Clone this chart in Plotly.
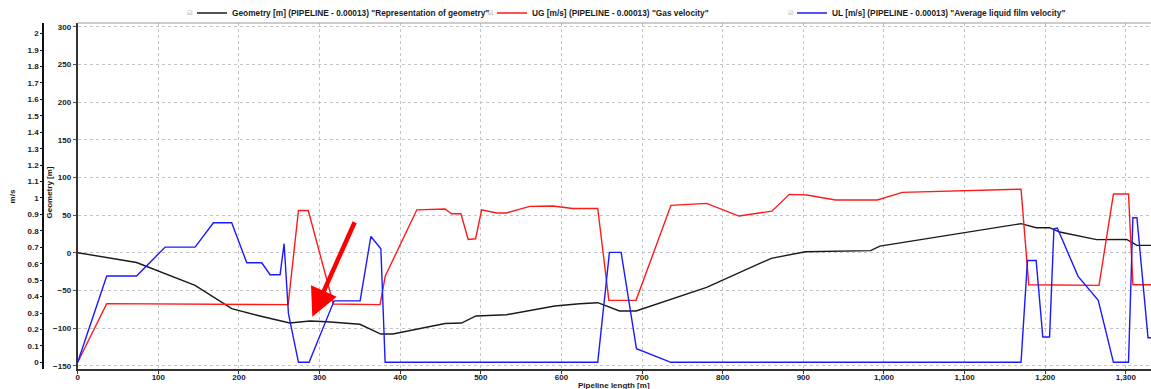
import plotly.graph_objects as go

# Pipeline profile: position along pipeline [m] and elevation [m]
geom_x = [0, 73, 145.6, 191, 226, 251, 263, 288, 309, 350, 376, 391, 455.6, 476, 494,
          532, 563, 591.6, 622.5, 645, 672, 692.5, 780, 860.2, 902.7, 983.4, 995,
          1130.7, 1170, 1188.75, 1205.4, 1218, 1263.75, 1301, 1313.75, 1340]
geometry_m = [0, -13, -43.4, -74.3, -84, -90, -93.4, -90.7, -91.6, -95, -108, -108, -94,
              -93.4, -84, -82.3, -76.5, -70.8, -67.7, -66.4, -77.4, -77.4, -46, -7.5, 1.3,
              2.7, 8.8, 32.3, 38.5, 33.2, 33.2, 27.4, 17.3, 17.7, 9.7, 9.7]

# Gas velocity UG [m/s]
ug_x = [0, 36, 261, 273.8, 286, 317, 375, 381.5, 420.6, 455.6, 463.8, 475.3, 484.3,
        493.5, 501, 519.5, 532, 560.7, 589.5, 614, 645, 658.8, 692.5, 735.8, 780, 820.3,
        861, 882.6, 904.6, 939.8, 991.7, 1022.8, 1170, 1179.6, 1266.7, 1284.6, 1303.3,
        1308.75, 1340]
ug_ms = [0.0, 0.357, 0.351, 0.924, 0.924, 0.355, 0.351, 0.525, 0.928, 0.933, 0.904,
         0.904, 0.748, 0.752, 0.928, 0.909, 0.909, 0.949, 0.951, 0.936, 0.936, 0.377,
         0.377, 0.955, 0.967, 0.890, 0.920, 1.022, 1.018, 0.988, 0.988, 1.034, 1.054,
         0.472, 0.468, 1.024, 1.024, 0.472, 0.472]

# Average liquid film velocity UL [m/s]
ul_x = [0, 36, 73, 108.4, 145.6, 168.3, 191, 209.7, 228.3, 238.6, 251, 256, 261.4,
        273.8, 287, 318, 350.3, 363.6, 376, 381.3, 645, 659.5, 674, 693, 735.8, 1170,
        1178, 1188.75, 1197, 1205.4, 1210.8, 1215, 1240.8, 1265.8, 1284.6, 1303.3,
        1308.75, 1313.75, 1327.5, 1340]
ul_ms = [0.0, 0.525, 0.525, 0.701, 0.701, 0.849, 0.849, 0.606, 0.606, 0.533, 0.533,
         0.722, 0.296, 0.0, 0.0, 0.374, 0.374, 0.766, 0.691, 0.0, 0.0, 0.669, 0.669,
         0.083, 0.0, 0.0, 0.620, 0.620, 0.154, 0.154, 0.813, 0.817, 0.523, 0.377, 0.0,
         0.0, 0.880, 0.880, 0.149, 0.149]

legend_names = [
    'Geometry [m] (PIPELINE - 0.00013) "Representation of geometry"',
    'UG [m/s] (PIPELINE - 0.00013) "Gas velocity"',
    'UL [m/s] (PIPELINE - 0.00013) "Average liquid film velocity"',
]

W, H = 1151, 389
FONT = "Liberation Sans, Arial, sans-serif"
TXT = "#1a1a1a"
x_left = 77.7 / W
LEGEND_X0 = 192      # left edge of the first legend entry, px
LEGEND_STEP = 300    # spacing between legend entries, px

fig = go.Figure()
fig.add_trace(go.Scatter(x=geom_x, y=geometry_m, mode="lines", name=legend_names[0],
                         line=dict(color="#1a1a1a", width=1.4), yaxis="y"))
fig.add_trace(go.Scatter(x=ug_x, y=ug_ms, mode="lines", name=legend_names[1],
                         line=dict(color="#ff1a1a", width=1.4), yaxis="y2"))
fig.add_trace(go.Scatter(x=ul_x, y=ul_ms, mode="lines", name=legend_names[2],
                         line=dict(color="#1a1aff", width=1.4), yaxis="y2"))

grid = dict(gridcolor="#c4c4c4", griddash="dot", gridwidth=1)
tickfont = dict(family=FONT, size=8, color=TXT, weight="bold")

fig.update_layout(
    width=W, height=H,
    margin=dict(l=0, r=0, t=23, b=20, autoexpand=False),
    paper_bgcolor="white", plot_bgcolor="white",
    showlegend=True,
    legend=dict(orientation="h", xref="container", yref="container",
                x=LEGEND_X0 / W, y=1 - 13 / H, xanchor="left", yanchor="middle",
                entrywidth=LEGEND_STEP - 45, entrywidthmode="pixels",
                font=dict(family=FONT, size=8.3, color=TXT, weight="bold"),
                bgcolor="rgba(0,0,0,0)", borderwidth=0, tracegroupgap=0),
    xaxis=dict(domain=[x_left, 1], range=[0, 1331.2], dtick=100, tick0=0,
               tickformat=",d", showline=True, linecolor="#333333", linewidth=2,
               ticks="outside", ticklen=3, tickcolor="#333333", zeroline=False,
               ticklabelstandoff=-4, tickfont=tickfont, automargin=False, **grid),
    yaxis=dict(range=[-154.4, 304.9], dtick=50, tick0=0, showline=True,
               linecolor="#333333", linewidth=2, ticks="outside", ticklen=3,
               tickcolor="#555555", zeroline=False, tickfont=tickfont,
               automargin=False, anchor="x", **grid),
    yaxis2=dict(range=[-0.0408, 2.065], dtick=0.1, tick0=0, overlaying="y",
                anchor="free", position=43.3 / W, side="left", showgrid=False,
                showline=True, linecolor="#111111", linewidth=2, ticks="outside",
                ticklen=2, tickcolor="#111111", zeroline=False, tickfont=tickfont,
                automargin=False),
)

# frame line along the top of the plotting area
fig.add_shape(type="line", xref="paper", yref="paper", x0=x_left, x1=1, y0=1, y1=1,
              line=dict(color="#9a9a9a", width=1))

title_font = dict(family=FONT, size=8, color=TXT, weight="bold")
annotations = [
    dict(text="m/s", xref="paper", yref="paper", x=12.7 / W, y=(389 - 20 - 196.7) / 346,
         xanchor="center", yanchor="middle", textangle=-90, showarrow=False, font=title_font),
    dict(text="Geometry [m]", xref="paper", yref="paper", x=48.5 / W,
         y=(389 - 20 - 193) / 346, xanchor="center", yanchor="middle", textangle=-90,
         showarrow=False, font=title_font),
    dict(text="Pipeline length [m]", xref="paper", yref="paper", x=(x_left + 1) / 2,
         y=0, yshift=-16.5, xanchor="center", yanchor="middle", showarrow=False,
         font=title_font),
    # highlight arrow pointing at the local geometry low point
    dict(text="", xref="x", yref="y", x=291, y=-85, ax=43, ay=-96, showarrow=True,
         arrowcolor="#ff0000", arrowwidth=4.5, arrowhead=2, arrowsize=1.25),
]
# check-box marks in front of each legend entry
for i in range(len(legend_names)):
    cx = LEGEND_X0 - 2 + i * LEGEND_STEP
    annotations.append(dict(text="☑", xref="paper", yref="paper", x=cx / W,
                            y=1 + 10 / 346, xanchor="center", yanchor="middle",
                            showarrow=False,
                            font=dict(family="DejaVu Sans", size=6, color="#8a8a8a")))
fig.update_layout(annotations=annotations)

fig.write_html("out.html")
